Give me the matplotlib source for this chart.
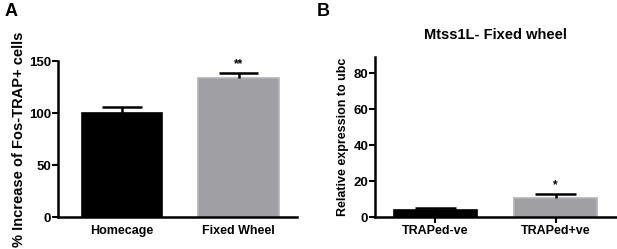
import matplotlib.pyplot as plt

plt.rcParams['font.family'] = ['Liberation Sans', 'DejaVu Sans']
plt.rcParams['font.weight'] = 'bold'

# panel A
groups_a = ['Homecage', 'Fixed Wheel']
values_a = [100, 134]
errors_a = [6, 4]
stars_a = ['', '**']

# panel B
groups_b = ['TRAPed-ve', 'TRAPed+ve']
values_b = [3.9, 10.5]
errors_b = [0.9, 2.4]
stars_b = ['', '*']

colors = ['black', '#a0a0a4']
edges = ['black', '#b4b4b6']

fig = plt.figure(figsize=(6.17, 2.49), dpi=100)
ax_a = fig.add_axes([0.094, 0.1285, 0.387, 0.6265])
ax_b = fig.add_axes([0.608, 0.1285, 0.39, 0.6425])


def style(ax):
    for s in ['top', 'right']:
        ax.spines[s].set_visible(False)
    for s in ['left', 'bottom']:
        ax.spines[s].set_linewidth(1.8)
    ax.tick_params(axis='y', width=1.5, length=4, labelsize=9.5, pad=1)
    for lab in ax.get_yticklabels():
        lab.set_fontweight('bold')


def draw(ax, groups, values, errors, stars, star_gap):
    x = list(range(len(groups)))
    ax.bar(x, values, width=0.69, color=colors, edgecolor=edges, linewidth=1.2, zorder=2)
    # upward-only error bars, cap half the bar wide
    tops = [v + e for v, e in zip(values, errors)]
    ax.vlines(x, values, tops, color='black', linewidth=1.8, zorder=3)
    ax.hlines(tops, [xi - 0.17 for xi in x], [xi + 0.17 for xi in x],
              color='black', linewidth=1.8, zorder=3)
    for xi, t, s in zip(x, tops, stars):
        if s:
            ax.text(xi, t + star_gap, s, ha='center', va='bottom', fontsize=8.5)
    ax.set_xticks(x)
    ax.set_xticklabels(groups, fontsize=9, fontweight='bold')


draw(ax_a, groups_a, values_a, errors_a, stars_a, 3)
ax_a.set_xlim(-0.55, 1.5)
ax_a.set_ylim(0, 150)
ax_a.set_yticks([0, 50, 100, 150])
ax_a.tick_params(axis='x', length=0, pad=6)
ax_a.set_ylabel('% Increase of Fos-TRAP+ cells', fontsize=10.5, fontweight='bold', labelpad=2)
style(ax_a)

draw(ax_b, groups_b, values_b, errors_b, stars_b, 1.6)
ax_b.set_xlim(-0.5, 1.5)
ax_b.set_ylim(0, 89)
ax_b.set_yticks([0, 20, 40, 60, 80])
ax_b.tick_params(axis='x', width=1.5, length=4, pad=2)
ax_b.set_ylabel('Relative expression to ubc', fontsize=9, fontweight='bold', labelpad=3)
ax_b.set_title('Mtss1L- Fixed wheel', fontsize=10.5, fontweight='bold', pad=13)
style(ax_b)

fig.text(0.008, 0.955, 'A', fontsize=13, fontweight='bold', va='center')
fig.text(0.513, 0.955, 'B', fontsize=13, fontweight='bold', va='center')

fig.savefig('out.png', dpi=100)
